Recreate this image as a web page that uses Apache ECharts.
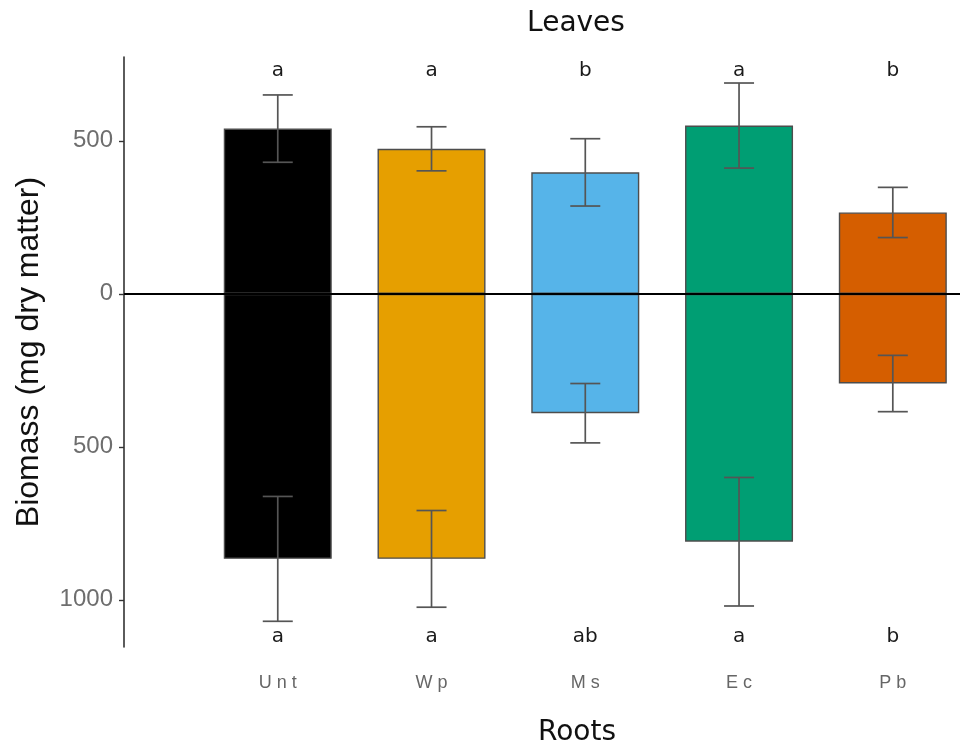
<!DOCTYPE html>
<html>
<head>
<meta charset="utf-8">
<script src="https://cdn.jsdelivr.net/npm/echarts@6/dist/echarts.min.js"></script>
<style>html,body{margin:0;padding:0;background:#fff}#c{width:960px;height:746px}</style>
</head>
<body>
<div id="c"></div>
<script>
var categories = ['Unt', 'Wp', 'Ms', 'Ec', 'Pb'];
var leaves = [540, 474, 397, 550, 266];
var leavesSE = [110, 72, 110, 139, 82];
var roots = [-866, -866, -390, -810, -293];
var rootsSE = [204, 158, 97, 210, 92];
var leafLetters = ['a', 'a', 'b', 'a', 'b'];
var rootLetters = ['a', 'a', 'ab', 'a', 'b'];
var yTicks = [-1000, -500, 0, 500];
var letterTopY = 730;
var letterBottomY = -1122;
var colors = ['#000000', '#E69F00', '#56B4E9', '#009E73', '#D55E00'];

var chart = echarts.init(document.getElementById('c'), null, {renderer: 'canvas'});

function barData(vals) {
  return vals.map(function (v, i) {
    return {value: [i + 1, v], itemStyle: {color: colors[i]}};
  });
}
function errData(vals, se) {
  return vals.map(function (v, i) { return [i + 1, v, se[i]]; });
}
function renderErr(params, api) {
  var x = api.value(0), m = api.value(1), s = api.value(2);
  var p1 = api.coord([x, m + s]);
  var p2 = api.coord([x, m - s]);
  var h = 15;
  var st = {stroke: '#555555', lineWidth: 1.7};
  return {type: 'group', children: [
    {type: 'line', shape: {x1: p1[0], y1: p1[1], x2: p2[0], y2: p2[1]}, style: st},
    {type: 'line', shape: {x1: p1[0] - h, y1: p1[1], x2: p1[0] + h, y2: p1[1]}, style: st},
    {type: 'line', shape: {x1: p2[0] - h, y1: p2[1], x2: p2[0] + h, y2: p2[1]}, style: st}
  ]};
}
function makeLetterSeries(letters, y) {
  return {
    type: 'custom', z: 5, silent: true,
    data: letters.map(function (l, i) { return [i + 1, y]; }),
    renderItem: function (params, api) {
      var p = api.coord([api.value(0), api.value(1)]);
      return {type: 'text', x: p[0], y: p[1], style: {
        text: letters[params.dataIndex],
        fill: '#1a1a1a', font: '20px "DejaVu Sans"', align: 'center', verticalAlign: 'middle'
      }};
    }
  };
}

var option = {
  animation: false,
  backgroundColor: '#ffffff',
  grid: {left: 124, right: 0, top: 57, bottom: 99},
  graphic: [
    {type: 'text', x: 576, y: 24, style: {text: 'Leaves', font: '28px "DejaVu Sans"', fill: '#111', align: 'center', verticalAlign: 'middle'}},
    {type: 'text', x: 577, y: 733, style: {text: 'Roots', font: '28px "DejaVu Sans"', fill: '#111', align: 'center', verticalAlign: 'middle'}}
  ],
  xAxis: {
    type: 'value', min: 0, max: 5.437,
    splitLine: {show: false}, axisLine: {show: false}, axisTick: {show: false},
    axisLabel: {
      customValues: [1, 2, 3, 4, 5], margin: 27,
      fontFamily: 'Liberation Sans', fontSize: 18, color: '#666666',
      formatter: function (v) { var c = categories[Math.round(v) - 1]; return c ? c.split('').join(' ') : ''; }
    }
  },
  yAxis: {
    type: 'value', min: -1154, max: 774,
    name: 'Biomass (mg dry matter)', nameLocation: 'middle', nameGap: 79,
    nameTextStyle: {fontFamily: 'Liberation Sans', fontSize: 32, color: '#111'},
    splitLine: {show: false},
    axisLine: {show: true, onZero: false, lineStyle: {color: '#333333', width: 1.6}},
    axisTick: {show: true, customValues: yTicks, length: 5, lineStyle: {color: '#333333', width: 1.4}},
    axisLabel: {
      customValues: yTicks, margin: 11, padding: [4, 0, 0, 0],
      fontFamily: 'Liberation Sans', fontSize: 24, color: '#6e6e6e',
      formatter: function (v) { return String(Math.abs(v)); }
    }
  },
  series: [
    {
      type: 'bar', name: 'Leaves', barWidth: 108, barGap: '-100%', z: 2,
      itemStyle: {borderColor: '#4d4d4d', borderWidth: 1.4},
      data: barData(leaves),
      markLine: {
        silent: true, symbol: 'none', label: {show: false},
        lineStyle: {color: '#000000', width: 2.2, type: 'solid'},
        data: [{yAxis: 0}], z: 4
      }
    },
    {
      type: 'bar', name: 'Roots', barWidth: 108, barGap: '-100%', z: 2,
      itemStyle: {borderColor: '#4d4d4d', borderWidth: 1.4},
      data: barData(roots)
    },
    {type: 'custom', z: 6, silent: true, data: errData(leaves, leavesSE), renderItem: renderErr},
    {type: 'custom', z: 6, silent: true, data: errData(roots, rootsSE), renderItem: renderErr},
    makeLetterSeries(leafLetters, letterTopY),
    makeLetterSeries(rootLetters, letterBottomY)
  ]
};
chart.setOption(option);
</script>
</body>
</html>
